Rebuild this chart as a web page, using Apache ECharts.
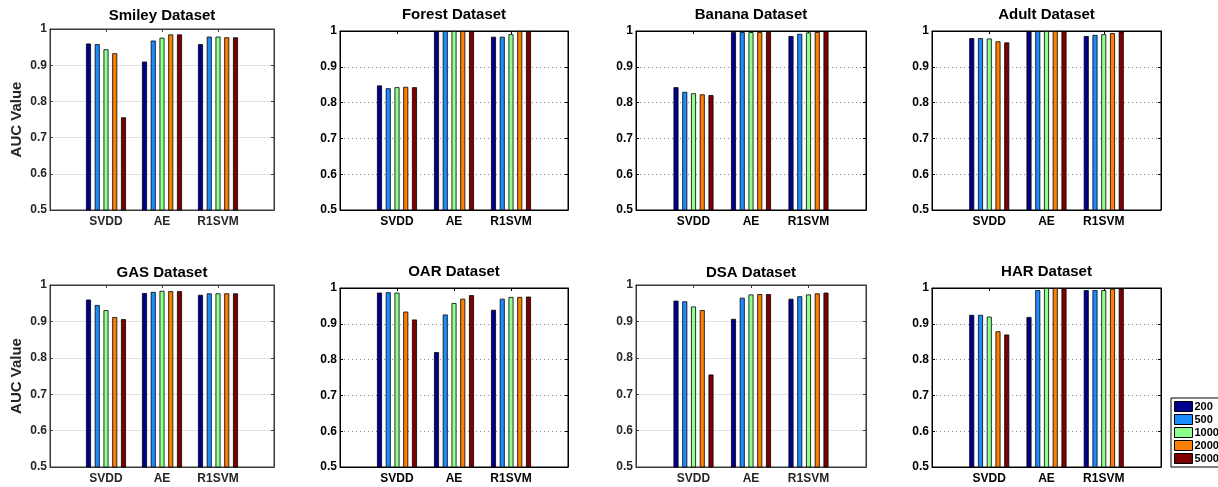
<!DOCTYPE html>
<html>
<head>
<meta charset="utf-8">
<script src="https://cdn.jsdelivr.net/npm/echarts@6/dist/echarts.min.js"></script>
<style>html,body{margin:0;padding:0;background:#fff;}#c{width:1218px;height:487px;}</style>
</head>
<body>
<div id="c"></div>
<script>
// ---- data ----
const categories = ['SVDD', 'AE', 'R1SVM'];
const sizes = ['200', '500', '1000', '2000', '5000'];
const yTicks = [0.5, 0.6, 0.7, 0.8, 0.9, 1];
const titles = ['Smiley Dataset', 'Forest Dataset', 'Banana Dataset', 'Adult Dataset',
                'GAS Dataset', 'OAR Dataset', 'DSA Dataset', 'HAR Dataset'];
// rows: SVDD, AE, R1SVM ; columns: sizes
const smiley = [[0.960, 0.958, 0.944, 0.933, 0.756], [0.910, 0.968, 0.976, 0.985, 0.985], [0.958, 0.979, 0.979, 0.977, 0.977]];
const forest = [[0.848, 0.840, 0.843, 0.844, 0.843], [1.000, 1.000, 1.000, 1.000, 1.000], [0.984, 0.984, 0.991, 1.000, 1.000]];
const banana = [[0.843, 0.830, 0.826, 0.823, 0.821], [0.997, 0.997, 0.997, 0.997, 0.997], [0.986, 0.992, 0.996, 0.997, 0.999]];
const adult  = [[0.980, 0.980, 0.979, 0.971, 0.968], [1.000, 1.000, 1.000, 1.000, 1.000], [0.986, 0.989, 0.991, 0.994, 0.998]];
const gas    = [[0.960, 0.945, 0.931, 0.912, 0.906], [0.978, 0.981, 0.984, 0.983, 0.983], [0.973, 0.977, 0.977, 0.977, 0.977]];
const oar    = [[0.987, 0.988, 0.987, 0.934, 0.912], [0.821, 0.926, 0.958, 0.970, 0.980], [0.939, 0.970, 0.975, 0.975, 0.976]];
const dsa    = [[0.957, 0.955, 0.941, 0.931, 0.754], [0.907, 0.965, 0.974, 0.975, 0.975], [0.962, 0.969, 0.974, 0.977, 0.979]];
const har    = [[0.925, 0.925, 0.920, 0.879, 0.870], [0.919, 0.994, 1.000, 1.000, 1.000], [0.994, 0.994, 0.994, 0.998, 0.998]];
const panelData = [smiley, forest, banana, adult, gas, oar, dsa, har];

// ---- layout / style ----
const colors = ['#00008f', '#1a8cff', '#8cff8c', '#ff7f00', '#800000'];
const panels = [
  {l: 50,  t: 29,  w: 224, h: 181, tt: 8,   modern: true,  ylab: true},
  {l: 340, t: 31,  w: 228, h: 179, tt: 7,   modern: false, ylab: false},
  {l: 636, t: 31,  w: 230, h: 179, tt: 7,   modern: false, ylab: false},
  {l: 932, t: 31,  w: 229, h: 179, tt: 7,   modern: false, ylab: false},
  {l: 50,  t: 285, w: 224, h: 182, tt: 265, modern: true,  ylab: true},
  {l: 340, t: 288, w: 228, h: 179, tt: 264, modern: false, ylab: false},
  {l: 636, t: 285, w: 230, h: 182, tt: 265, modern: true,  ylab: false},
  {l: 932, t: 288, w: 229, h: 179, tt: 264, modern: false, ylab: false}
];
const FONT = 'Liberation Sans';
const xCats = [''].concat(categories).concat(['']);

const grid = [], xAxis = [], yAxis = [], series = [], title = [];
panels.forEach((p, i) => {
  const axisCol = p.modern ? '#3a3a3a' : '#000';
  const labCol = p.modern ? '#262626' : '#000';
  grid.push({left: p.l, top: p.t, width: p.w, height: p.h, containLabel: false,
    show: true, borderColor: axisCol, borderWidth: 1, backgroundColor: '#fff'});
  title.push({text: titles[i], left: p.l + p.w / 2, textAlign: 'center',
    top: p.tt, padding: 0,
    textStyle: {fontFamily: FONT, fontWeight: 'bold', fontSize: 15, color: '#000'}});
  const xi = xAxis.length;
  xAxis.push({type: 'category', gridIndex: i, data: xCats, boundaryGap: false,
    axisLine: {show: true, lineStyle: {color: axisCol, width: 1}},
    axisTick: {show: true, inside: true, length: 3, alignWithLabel: true, lineStyle: {color: axisCol},
      interval: (idx) => idx > 0 && idx < 4},
    axisLabel: {show: true, interval: 0, margin: 6, color: labCol, fontFamily: FONT, fontWeight: 'bold', fontSize: 12},
    splitLine: {show: false}});
  xAxis.push({type: 'category', gridIndex: i, data: xCats, boundaryGap: false, position: 'top',
    axisLine: {show: true, lineStyle: {color: axisCol, width: 1}},
    axisTick: {show: true, inside: true, length: 3, lineStyle: {color: axisCol},
      interval: (idx) => idx > 0 && idx < 4},
    axisLabel: {show: false}, splitLine: {show: false}});
  const yi = yAxis.length;
  yAxis.push({type: 'value', gridIndex: i, min: yTicks[0], max: yTicks[yTicks.length - 1], interval: 0.1,
    name: p.ylab ? 'AUC Value' : '', nameLocation: 'middle', nameGap: 26,
    nameTextStyle: {fontFamily: FONT, fontWeight: 'bold', fontSize: 15, color: labCol},
    axisLine: {show: true, lineStyle: {color: axisCol, width: 1}},
    axisTick: {show: true, inside: true, length: 3, lineStyle: {color: axisCol}},
    axisLabel: {color: labCol, fontFamily: FONT, fontWeight: 'bold', fontSize: 12, margin: 3,
      formatter: (v) => (Math.round(v * 10) / 10).toString()},
    splitLine: {show: true, lineStyle: p.modern ? {color: '#e3e3e3', width: 1, type: 'solid'}
                                               : {color: '#8a8a8a', width: 1, type: [1, 3]}}});
  yAxis.push({type: 'value', gridIndex: i, min: yTicks[0], max: yTicks[yTicks.length - 1], interval: 0.1,
    position: 'right',
    axisLine: {show: true, lineStyle: {color: axisCol, width: 1}},
    axisTick: {show: true, inside: true, length: 3, lineStyle: {color: axisCol}},
    axisLabel: {show: false}, splitLine: {show: false}});
  sizes.forEach((s, k) => {
    const vals = [null].concat(categories.map((c, m) => panelData[i][m][k])).concat([null]);
    series.push({type: 'bar', name: s, xAxisIndex: xi, yAxisIndex: yi, data: vals,
      barWidth: 5, barGap: '75%', z: 3,
      itemStyle: {color: colors[k], borderColor: '#000', borderWidth: 0.8},
      emphasis: {disabled: true}, animation: false});
  });
});

const option = {
  animation: false,
  backgroundColor: '#fff',
  color: colors,
  title: title,
  grid: grid,
  xAxis: xAxis,
  yAxis: yAxis,
  series: series,
  legend: {
    data: sizes, orient: 'vertical', left: 1171, top: 398,
    itemWidth: 18, itemHeight: 10, itemGap: 2, padding: [3, 40, 3, 3],
    backgroundColor: '#fff', borderColor: '#000', borderWidth: 1,
    icon: 'rect', selectedMode: false,
    itemStyle: {borderColor: '#000', borderWidth: 1},
    textStyle: {fontFamily: FONT, fontWeight: 'bold', fontSize: 11, color: '#000', padding: [0, 0, 0, -3]}
  }
};
const chart = echarts.init(document.getElementById('c'), null, {renderer: 'canvas'});
chart.setOption(option);
</script>
</body>
</html>
